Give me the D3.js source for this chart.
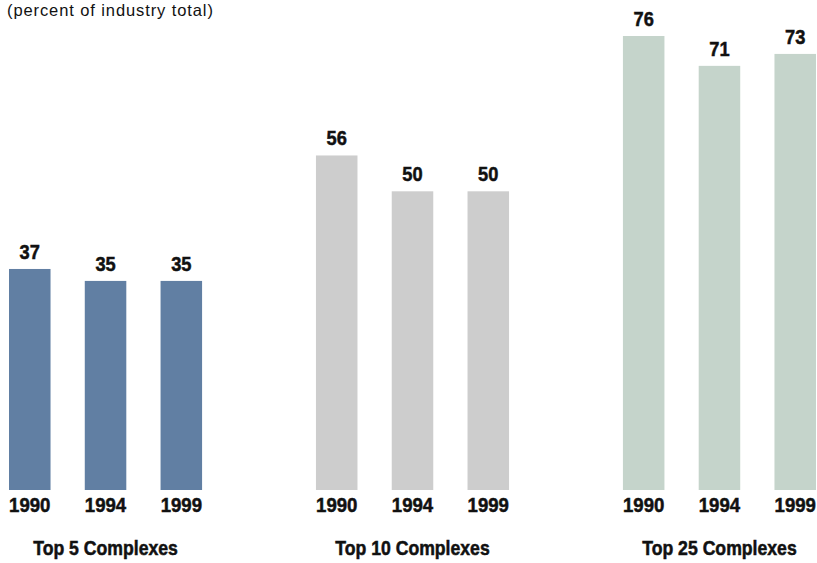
<!DOCTYPE html>
<html>
<head>
<meta charset="utf-8">
<script src="https://cdn.jsdelivr.net/npm/d3@7"></script>
<style>
  body { margin: 0; background: #fff; }
  text { font-family: "Liberation Sans", Arial, sans-serif; fill: #111; }
  .val, .year, .group { font-weight: bold; stroke: #111; stroke-width: 0.5px; }
</style>
</head>
<body>
<div id="container"></div>
<script>
var groups = ["Top 5 Complexes", "Top 10 Complexes", "Top 25 Complexes"];
var years = ["1990", "1994", "1999"];
var top5 = [37, 35, 35];
var top10 = [56, 50, 50];
var top25 = [76, 71, 73];
var colors = ["#617fa3", "#cdcdcd", "#c5d4cb"];

var width = 817, height = 563;
var base = 490;

var data = [top5, top10, top25];

const svg = d3.select("#container")
              .append("svg")
              .attr("width", width)
              .attr("height", height);

// outer scale for the groups, inner one for the years
var x0 = d3.scaleBand()
           .domain(groups)
           .range([9, 816])
           .paddingInner(0.371)
           .paddingOuter(0);

var x1 = d3.scaleBand()
           .domain(years)
           .range([0, x0.bandwidth()])
           .paddingInner(0.452)
           .paddingOuter(0);

var y = d3.scaleLinear()
          .domain([0, 76])
          .range([base, 36]);

// narrow text: squeeze horizontally around its anchor point
function narrow(sel, sx, fx, fy) {
    sel.attr("transform", (d, i) => "translate(" + fx(d, i) + "," + fy(d, i) + ") scale(" + sx + ",1)")
       .attr("x", 0)
       .attr("y", 0);
}

svg.append("text")
   .attr("x", 7)
   .attr("y", 16)
   .style("font-size", "16.5px")
   .style("letter-spacing", "0.9px")
   .text("(percent of industry total)");

var g = svg.selectAll(".grp")
           .data(groups)
           .enter()
           .append("g")
           .attr("class", "grp")
           .attr("transform", (d) => "translate(" + x0(d) + ",0)");

g.selectAll("rect")
 .data((d, i) => data[i].map((v, j) => ({v: v, year: years[j], gi: i})))
 .enter()
 .append("rect")
 .attr("x", (d) => x1(d.year))
 .attr("y", (d) => y(d.v))
 .attr("width", x1.bandwidth())
 .attr("height", (d) => base - y(d.v))
 .attr("fill", (d) => colors[d.gi]);

g.selectAll(".val")
 .data((d, i) => data[i].map((v, j) => ({v: v, year: years[j]})))
 .enter()
 .append("text")
 .attr("class", "val")
 .attr("text-anchor", "middle")
 .style("font-size", "21px")
 .text((d) => d.v)
 .call(narrow, 0.87, (d) => x1(d.year) + x1.bandwidth() / 2, (d) => y(d.v) - 10);

g.selectAll(".year")
 .data(years)
 .enter()
 .append("text")
 .attr("class", "year")
 .attr("text-anchor", "middle")
 .style("font-size", "20px")
 .text((d) => d)
 .call(narrow, 0.93, (d) => x1(d) + x1.bandwidth() / 2, () => 512);

g.append("text")
 .attr("class", "group")
 .attr("text-anchor", "middle")
 .style("font-size", "19.5px")
 .text((d) => d)
 .call(narrow, 0.905, () => x0.bandwidth() / 2, () => 555);
</script>
</body>
</html>
